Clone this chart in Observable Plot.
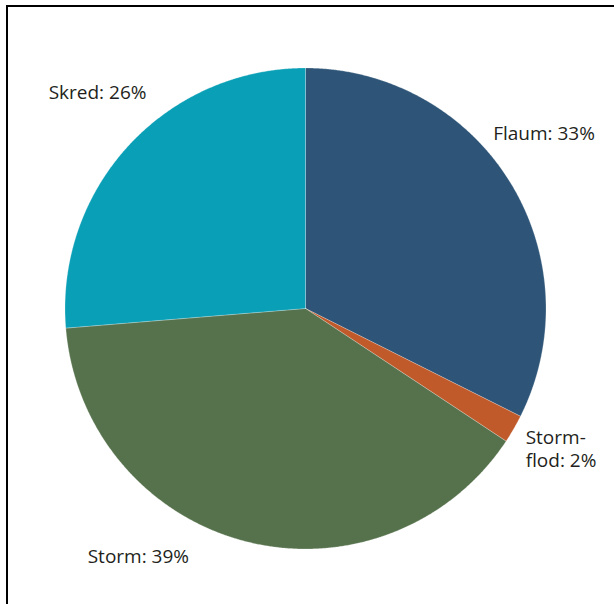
<!DOCTYPE html>
<html>
<head>
<meta charset="utf-8">
<script src="https://cdn.jsdelivr.net/npm/d3@7"></script>
<script src="https://cdn.jsdelivr.net/npm/@observablehq/plot@0.6"></script>
<style>
  html, body { margin: 0; padding: 0; background: #fff; }
  #wrap { position: relative; width: 614px; height: 604px; overflow: hidden; }
  #frame { position: absolute; left: 6px; top: 5px; right: -10px; bottom: -10px;
           border-left: 2px solid #000; border-top: 2px solid #000; pointer-events: none; }
</style>
</head>
<body>
<div id="wrap"><div id="frame"></div></div>
<script>
// Data
const categories = ["Flaum", "Stormflod", "Storm", "Skred"];
const values = [32.4, 1.9, 39.4, 26.3];
const labels = ["Flaum: 33%", "Storm-\nflod: 2%", "Storm: 39%", "Skred: 26%"];
const colors = ["#2e5577", "#c05a2b", "#56724c", "#099fb6"];

// label placement offsets (px) relative to the slice's outer edge mid-point
const labelDx = [-17, 12, -158, -80];
const labelDy = [-50, 19, 14, -54];

const pie = d3.pie().sort(null).value(d => d.value);
const arcs = pie(categories.map((name, i) => ({name, value: values[i]})));

// polygon outline of each slice (center + arc)
const points = [];
arcs.forEach(a => {
  const name = a.data.name;
  points.push({name, x: 0, y: 0});
  const n = Math.max(2, Math.ceil((a.endAngle - a.startAngle) / 0.005));
  for (let k = 0; k <= n; k++) {
    const t = a.startAngle + (a.endAngle - a.startAngle) * k / n;
    points.push({name, x: Math.sin(t), y: Math.cos(t)});
  }
  points.push({name, x: 0, y: 0});
});

const labelData = arcs.map((a, i) => {
  const m = (a.startAngle + a.endAngle) / 2;
  return {text: labels[i], x: Math.sin(m), y: Math.cos(m), dx: labelDx[i], dy: labelDy[i]};
});

const chart = Plot.plot({
  width: 614,
  height: 604,
  marginLeft: 64.5,
  marginRight: 68.5,
  marginTop: 67.5,
  marginBottom: 55.5,
  x: {domain: [-1, 1], axis: null},
  y: {domain: [-1, 1], axis: null},
  color: {domain: categories, range: colors},
  style: {fontFamily: "'Open Sans', sans-serif", background: "transparent"},
  marks: [
    Plot.line(points, {x: "x", y: "y", z: "name", fill: "name", stroke: "#ffffff", strokeWidth: 0.4, strokeOpacity: 0.6, curve: "linear-closed"}),
    ...labelData.map(d => Plot.text([d], {
      x: "x", y: "y", text: "text", dx: d.dx, dy: d.dy,
      textAnchor: "start", lineAnchor: "middle", lineHeight: 1.25,
      fontSize: 19, fill: "#231f20"
    }))
  ]
});
document.getElementById("wrap").insertBefore(chart, document.getElementById("frame"));
</script>
</body>
</html>
